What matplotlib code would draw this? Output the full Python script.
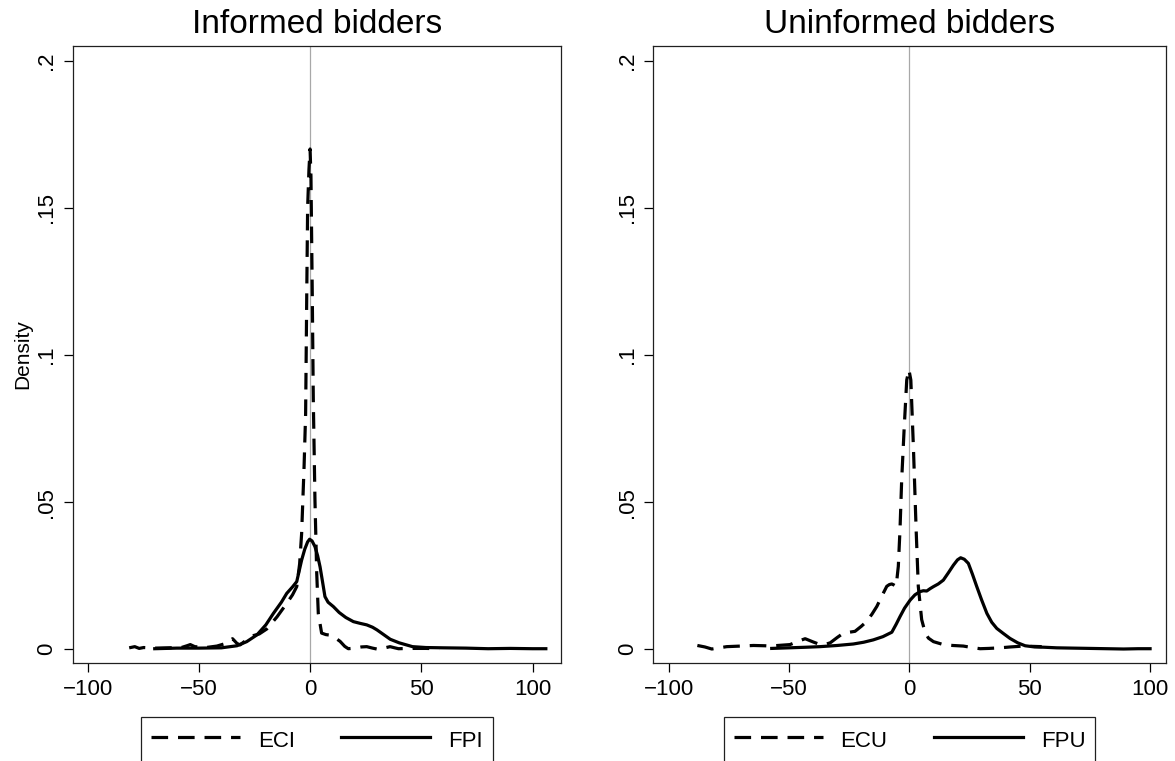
import numpy as np
import matplotlib
matplotlib.use("Agg")
import matplotlib.pyplot as plt

plt.rcParams['font.family'] = ['Liberation Sans', 'DejaVu Sans']

# informed bidders: ECI (dashed) and FPI (solid)
eci_x = [-81.5, -79, -77, -75, -70, -64, -58, -55.5, -54, -52, -47, -42, -38, -35, -33, -31.6,
         -29, -26.4, -23, -19.6, -15, -10.6, -8, -6.1, -4.8, -3.9, -2.8, -2.1, -1.6, -1.2, -0.6,
         -0.1, 0.3, 0.9, 1.35, 2.1, 2.9, 3.6, 5.1, 7, 8.9, 11, 13.4, 15.5, 17.1, 20, 23, 25.4,
         28, 29.9, 33, 35.9, 38, 39.7, 45, 52, 58]
eci_y = [.0005, .0009, .0003, .0006, .0004, .0005, .0006, .0012, .0016, .0009, .0006, .0011,
         .0020, .0036, .0020, .0015, .0030, .0045, .0052, .0069, .011, .0156, .0185, .0213, .029,
         .0393, .062, .080, .120, .150, .163, .170, .1606, .120, .085, .0507, .0258, .0122, .0055,
         .0050, .0048, .0040, .0027, .0010, .0002, .0004, .0008, .0009, .0004, .0001, .0004, .0009,
         .0005, .0002, .0003, .0003, .0002]

fpi_x = [-70, -60, -50, -40, -33, -28.6, -24, -20, -16.6, -13, -10.6, -8, -6.1, -3.9, -2.5, -1.2,
         -0.3, 0.8, 2.1, 3.3, 4.4, 5.5, 6.6, 8, 10.4, 13, 16, 19.4, 22.5, 25.4, 28, 30, 33, 36, 40,
         46, 52, 60, 70, 80, 90, 100, 106]
fpi_y = [.0002, .0004, .0004, .0005, .0012, .0026, .0049, .0083, .0122, .0160, .019, .0212, .023,
         .0303, .0340, .0365, .0374, .0368, .0349, .0318, .028, .0230, .0179, .0160, .0145, .0125,
         .0108, .0094, .0088, .0083, .0075, .0066, .0050, .0034, .0022, .0009, .0006, .0005, .0004,
         .0002, .0003, .0002, .0002]

# uninformed bidders: ECU (dashed) and FPU (solid)
ecu_x = [-88.1, -85, -82.1, -79, -75.9, -70, -64.8, -60, -57.9, -53, -49.6, -46, -43.3, -40, -37.1,
         -34.5, -32.9, -30, -27.4, -25, -22.6, -20, -17.7, -15.5, -13.5, -11.5, -9.4, -8.3, -7.3,
         -6.3, -5.5, -4.6, -3.9, -3.2, -2.2, -1.1, -0.2, 0.6, 1.7, 2.8, 3.7, 5.1, 6.5, 7.9, 10, 14.1,
         18, 22.4, 26, 29.4, 33, 37.7, 42, 47.4, 51, 55]
ecu_y = [.0013, .0008, .0001, .0005, .0009, .0011, .0013, .0012, .0011, .0014, .0016, .0028, .0036,
         .0025, .0016, .0018, .0022, .0040, .0055, .0058, .0061, .0078, .0095, .0120, .0146, .0180,
         .0214, .0220, .0222, .0218, .0214, .0282, .0407, .0576, .0746, .0915, .0950, .0915, .068,
         .0407, .0214, .0101, .0058, .0038, .0026, .0016, .0013, .0011, .0006, .0002, .0003, .0005,
         .0008, .0011, .0010, .0009]

fpu_x = [-57.2, -50, -43, -37.1, -30, -23.3, -19, -15, -11, -7.3, -5.5, -3.9, -2, 0.3, 2.3, 4.4,
         5.8, 7.2, 8.6, 10, 12, 14.1, 16.2, 18.3, 20, 21.3, 22.8, 24.5, 26.2, 28, 30, 32.2, 34.2,
         36.3, 39, 41.8, 45, 48.1, 52, 56, 61.2, 68, 75.1, 82, 89, 95, 100]
fpu_y = [.0003, .0005, .0007, .0009, .0013, .0018, .0024, .0032, .0043, .0058, .0085, .0111, .0140,
         .0167, .0185, .0196, .0199, .0198, .0206, .0213, .0222, .0235, .0260, .0286, .0304, .0311,
         .0306, .0292, .0255, .0213, .0168, .0122, .0092, .0071, .0054, .0037, .0022, .0012, .0008,
         .0007, .0005, .0004, .0003, .0002, .0001, .0002, .0002]

xticks = [-100, -50, 0, 50, 100]
yticks = [0, .05, .1, .15, .2]
ytick_labels = ["0", ".05", ".1", ".15", ".2"]

dash = (0, (5.2, 3.1))
lw = 2.3

fig = plt.figure(figsize=(11.75, 7.61), dpi=100)
ax1 = fig.add_axes([0.0621, 0.1288, 0.4153, 0.8108])
ax2 = fig.add_axes([0.5560, 0.1288, 0.4361, 0.8108])

panels = [
    (ax1, "Informed bidders", eci_x, eci_y, fpi_x, fpi_y, "ECI", "FPI", (-106.8, 112.8)),
    (ax2, "Uninformed bidders", ecu_x, ecu_y, fpu_x, fpu_y, "ECU", "FPU", (-106.4, 106.5)),
]

for ax, title, dx, dy, sx, sy, dlab, slab, xl in panels:
    ax.axvline(0, color="#a8a8a8", lw=0.9, zorder=1)
    ax.plot(dx, dy, color="black", lw=lw, linestyle=dash, label=dlab, zorder=3)
    ax.plot(sx, sy, color="black", lw=lw, label=slab, zorder=3)
    ax.set_xlim(xl)
    ax.set_ylim(-0.00465, 0.205)
    ax.set_xticks(xticks)
    ax.set_yticks(yticks)
    ax.set_yticklabels(ytick_labels)
    ax.tick_params(labelsize=16, length=6.7, width=0.9, pad=4.5, color="black")
    plt.setp(ax.get_yticklabels(), rotation=90, va="center")
    for sp in ax.spines.values():
        sp.set_linewidth(0.9)
        sp.set_color("#202020")
    ax.set_title(title, fontsize=24, pad=9)
    # legend box sits below the axes and runs past the bottom edge of the figure
    leg = ax.legend(loc="upper center", bbox_to_anchor=(0.5, -0.0875), borderaxespad=0,
                    ncol=2, fontsize=16, handlelength=4.0, handleheight=1.3, handletextpad=0.8,
                    columnspacing=2.1, borderpad=0.45, fancybox=False, framealpha=1)
    leg.get_frame().set_edgecolor("#202020")
    leg.get_frame().set_linewidth(0.9)

ax1.set_ylabel("Density", fontsize=15)
ax1.yaxis.set_label_coords(-0.083, 0.5)

plt.savefig("out.png", dpi=100)
